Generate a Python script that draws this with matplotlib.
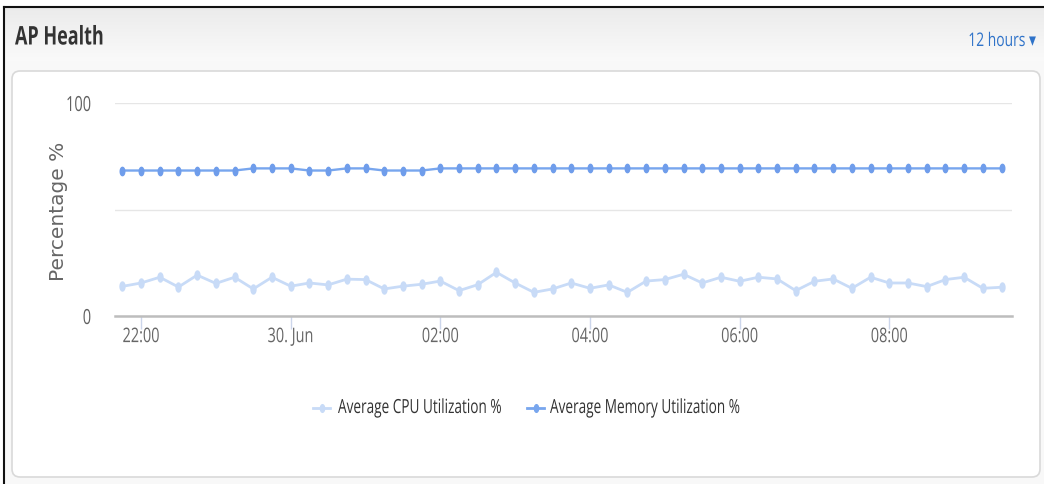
import matplotlib
matplotlib.use("Agg")
import matplotlib.pyplot as plt
import matplotlib.dates as mdates
import numpy as np
import pandas as pd
from matplotlib.lines import Line2D
from matplotlib.patches import FancyBboxPatch
from matplotlib.path import Path
from matplotlib.patheffects import AbstractPathEffect
from matplotlib.ticker import FuncFormatter
from matplotlib.transforms import Affine2D

W, H = 1044, 485

# 15-minute samples from 21:45 to 09:30
times = pd.date_range("2024-06-29 21:45", periods=48, freq="15min")
cpu = [13.9, 15.5, 18.2, 13.6, 19.2, 15.3, 18.2, 12.7, 18.2, 14.0, 15.5, 14.6,
       17.3, 17.1, 12.7, 14.0, 14.9, 16.4, 11.9, 14.7, 20.5, 15.5, 11.1, 12.7,
       15.5, 13.0, 14.6, 11.1, 16.4, 17.1, 19.6, 15.5, 18.2, 16.3, 18.2, 17.4,
       11.9, 16.3, 17.4, 13.0, 18.2, 15.5, 15.5, 13.8, 17.1, 18.2, 13.0, 13.5]
memory = [68.3, 68.3, 68.3, 68.3, 68.3, 68.3, 68.3, 69.3, 69.3, 69.3, 68.3, 68.3,
          69.3, 69.3, 68.3, 68.3, 68.3, 69.3, 69.3, 69.3, 69.3, 69.3, 69.3, 69.3,
          69.3, 69.3, 69.3, 69.3, 69.3, 69.3, 69.3, 69.3, 69.3, 69.3, 69.3, 69.3,
          69.3, 69.3, 69.3, 69.3, 69.3, 69.3, 69.3, 69.3, 69.3, 69.3, 69.3, 69.3]
series_names = ["Average CPU Utilization %", "Average Memory Utilization %"]
series_colors = ["#c8dbf7", "#78a6ee"]
y_ticks = [0, 50, 100]
y_tick_labels = ["0", "", "100"]

FONT = ["Open Sans", "DejaVu Sans"]


class Squeeze(AbstractPathEffect):
    """Draw text horizontally condensed around its left, centre or right edge."""

    def __init__(self, sx=0.72, anchor="center"):
        super().__init__()
        self.sx = sx
        self.anchor = anchor

    def draw_path(self, renderer, gc, tpath, affine, rgbFace=None):
        ext = tpath.get_extents(affine)
        cx = {"left": ext.x0, "center": 0.5 * (ext.x0 + ext.x1), "right": ext.x1}[self.anchor]
        tr = affine + Affine2D().translate(-cx, 0).scale(self.sx, 1).translate(cx, 0)
        renderer.draw_path(gc, tpath, tr, rgbFace)


fig = plt.figure(figsize=(W / 100, H / 100), dpi=100)
fig.patch.set_facecolor("white")

# background layer in pixel coordinates (y grows downward)
bg = fig.add_axes([0, 0, 1, 1], zorder=0)
bg.set_xlim(0, W)
bg.set_ylim(H, 0)
bg.axis("off")

bg.add_patch(plt.Rectangle((4, 8), W, H, color="#f8f8f8", lw=0))
grad = np.linspace(0, 1, 64).reshape(-1, 1)
bg.imshow(grad, extent=(4, W, 62, 8), cmap=matplotlib.colors.LinearSegmentedColormap.from_list(
    "hdr", ["#ebebeb", "#fafafa"]), aspect="auto", zorder=1)
bg.plot([4, W], [8, 8], color="#111111", lw=1.5, zorder=5)
bg.plot([4, 4], [8, H], color="#111111", lw=1.5, zorder=5)

card = FancyBboxPatch((12, 72), 1028, 406, boxstyle="round,pad=0,rounding_size=8",
                      fc="white", ec="#d9d9d9", lw=1.2, zorder=2)
bg.add_patch(card)

bg.text(15, 38, "AP Health", family=FONT, fontsize=18.5, fontweight="bold",
        color="#333333", va="center", ha="left", zorder=6,
        path_effects=[Squeeze(0.70, "left")])
bg.text(1036, 42, "12 hours \u25BE", family=FONT, fontsize=13.5, color="#2f73c9",
        va="center", ha="right", zorder=6, path_effects=[Squeeze(0.74, "right")])

# chart
ax = fig.add_axes([115 / W, 1 - 317 / H, 897 / W, 213 / H], zorder=1)
ax.set_facecolor("none")

t = np.linspace(0, 2 * np.pi, 40)
ell = Path(np.column_stack([0.55 * np.cos(t), np.sin(t)]))

ax.plot(times, cpu, color=series_colors[0], lw=2, marker=ell, ms=6.5,
        mec=series_colors[0], zorder=3)
ax.plot(times, memory, color=series_colors[1], lw=1.7, marker=ell, ms=6,
        mec="#6f9deb", mfc="#6f9deb", zorder=4)

x0 = pd.Timestamp("2024-06-29 22:00")
ax.set_xlim(x0 + pd.Timedelta(hours=-0.348), x0 + pd.Timedelta(hours=11.64))
ax.set_ylim(0, 100)
ax.set_yticks(y_ticks, labels=y_tick_labels)

ax.xaxis.set_major_locator(mdates.HourLocator(byhour=range(0, 24, 2)))


def fmt(x, pos):
    d = mdates.num2date(x)
    return d.strftime("%d. %b") if d.hour == 0 else d.strftime("%H:%M")


ax.xaxis.set_major_formatter(FuncFormatter(fmt))

ax.grid(axis="y", color="#e6e6e6", lw=1, zorder=0)
for s in ["top", "right", "left"]:
    ax.spines[s].set_visible(False)
ax.spines["bottom"].set_color("#bdbdbd")
ax.spines["bottom"].set_linewidth(1.8)
ax.spines["bottom"].set_zorder(5)

ax.tick_params(axis="y", length=0, pad=17, labelsize=15, labelcolor="#606060")
ax.tick_params(axis="x", length=9, width=1, color="#ccd6eb", pad=-1,
               labelsize=14.5, labelcolor="#666666")

fig.text(58 / W, 1 - 211 / H, "Percentage %", rotation=90, ha="center", va="center",
         family="DejaVu Sans", fontsize=14.5, color="#666666")

# legend: short line with a marker, then the series name
legend_x = [(313, 338), (527, 550)]
for (hx, tx), name, col in zip(legend_x, series_names, series_colors):
    bg.add_line(Line2D([hx, hx + 17], [409, 409], color=col, lw=2, zorder=6))
    bg.add_line(Line2D([hx + 8.5], [409], color=col, marker=ell, ms=5.5, lw=0, zorder=6))
    bg.text(tx, 409, name, family=FONT, fontsize=14, color="#333333", ha="left",
            va="center", zorder=6, path_effects=[Squeeze(0.70, "left")])

fig.canvas.draw()
for lbl in ax.get_xticklabels():
    lbl.set_family(FONT)
    lbl.set_path_effects([Squeeze(0.72, "center")])
for lbl in ax.get_yticklabels():
    lbl.set_family(FONT)
    lbl.set_path_effects([Squeeze(0.70, "right")])

fig.savefig("out.png", dpi=100, facecolor="white")
